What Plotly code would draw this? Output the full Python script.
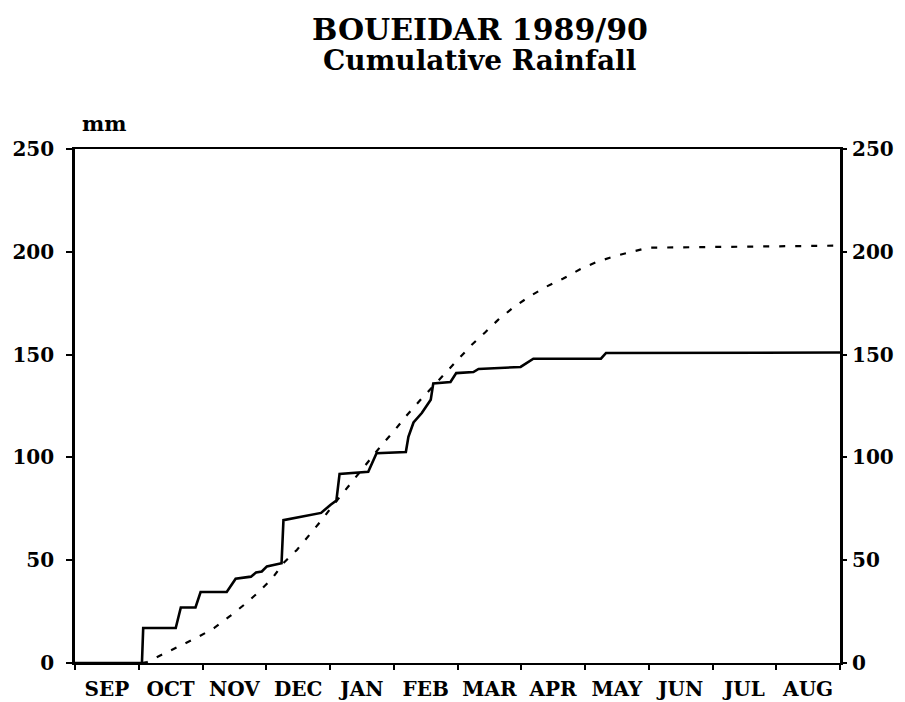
import plotly.graph_objects as go

months = ["SEP", "OCT", "NOV", "DEC", "JAN", "FEB", "MAR", "APR", "MAY", "JUN", "JUL", "AUG"]
y_ticks = [0, 50, 100, 150, 200, 250]

# x in months since 1 September
actual_x = [0, 1.05, 1.07, 1.58, 1.66, 1.89, 1.97, 2.38, 2.52, 2.76, 2.84, 2.93, 3.01,
            3.24, 3.27, 3.62, 3.86, 4.01, 4.10, 4.15, 4.60, 4.73, 5.19, 5.23, 5.31,
            5.44, 5.58, 5.62, 5.89, 5.98, 6.25, 6.33, 6.99, 7.19, 8.25, 8.33, 12]
actual_y = [0, 0, 17, 17, 27, 27, 34.5, 34.5, 41, 42, 44, 44.5, 47,
            48.5, 69.5, 71.5, 73, 77, 79, 92, 93, 102, 102.6, 110, 117,
            121.6, 128, 136, 136.7, 141, 141.5, 143, 144, 148, 148, 150.8, 151]

normal_x = [1.05, 1.13, 1.36, 1.63, 1.94, 2.18, 2.44, 2.68, 2.88, 3.09, 3.27, 3.48,
            3.70, 3.87, 4.03, 4.26, 4.65, 4.81, 5.01, 5.19, 5.42, 5.83, 6.02, 6.22,
            6.44, 6.64, 6.88, 7.14, 7.39, 7.66, 7.93, 8.18, 8.48, 8.79, 8.99, 12]
normal_y = [0, 0.5, 4, 8, 12.8, 17, 23, 29, 34.5, 41, 48.6, 55,
            63, 69.5, 76, 85, 100, 106, 113, 120, 128, 141.5, 148, 154.7,
            161, 167, 173, 178.5, 183, 187, 191.6, 195, 198, 200.4, 202, 203]

FONT = "DejaVu Serif"
TICKFONT = dict(family=FONT, size=20, color="black", weight="bold")

fig = go.Figure()
fig.add_trace(go.Scatter(x=normal_x, y=normal_y, mode="lines",
                         line=dict(color="black", width=2.2, dash="6px,10px"),
                         showlegend=False, hoverinfo="skip"))
fig.add_trace(go.Scatter(x=actual_x, y=actual_y, mode="lines",
                         line=dict(color="black", width=2.6),
                         showlegend=False, hoverinfo="skip"))
# invisible trace to activate right axis
fig.add_trace(go.Scatter(x=[0], y=[0], yaxis="y2", mode="markers",
                         marker=dict(opacity=0), showlegend=False, hoverinfo="skip"))

fig.update_layout(
    width=897, height=694,
    margin=dict(l=67, r=65, t=141, b=39),
    paper_bgcolor="white", plot_bgcolor="white",
    font=dict(family=FONT, color="black"),
    xaxis=dict(
        range=[0, 12], tickvals=[i + 0.5 for i in range(12)], ticktext=months,
        ticks="", showgrid=False, zeroline=False, automargin=False,
        showline=True, linecolor="black", linewidth=2, mirror=True,
        tickfont=TICKFONT, ticklabelstandoff=7,
        minor=dict(ticks="outside", tick0=0, dtick=1, ticklen=5, tickwidth=2, tickcolor="black"),
    ),
    yaxis=dict(
        range=[0, 250], tickvals=y_ticks, ticks="outside", ticklen=6, tickwidth=2,
        tickcolor="black", showgrid=False, zeroline=False, automargin=False,
        showline=True, linecolor="black", linewidth=2.6, mirror=True,
        tickfont=TICKFONT,
        ticklabelstandoff=8,
    ),
    yaxis2=dict(
        range=[0, 250], tickvals=y_ticks, overlaying="y", side="right",
        ticks="outside", ticklen=6, tickwidth=2, tickcolor="black",
        showgrid=False, zeroline=False, showline=False, automargin=False,
        tickfont=TICKFONT,
        ticklabelstandoff=1,
    ),
    annotations=[
        dict(text="<b>BOUEIDAR 1989/90</b>", xref="paper", yref="paper", x=0.529, y=1,
             xanchor="center", yanchor="middle", yshift=120, showarrow=False,
             font=dict(family=FONT, size=30, color="black")),
        dict(text="<b>Cumulative Rainfall</b>", xref="paper", yref="paper", x=0.529, y=1,
             xanchor="center", yanchor="middle", yshift=89, showarrow=False,
             font=dict(family=FONT, size=28, color="black")),
        dict(text="<b>mm</b>", xref="paper", yref="paper", x=0, y=1,
             xanchor="left", yanchor="bottom", xshift=5, yshift=11, showarrow=False,
             font=dict(family=FONT, size=21, color="black")),
    ],
)

fig.write_html("out.html")
